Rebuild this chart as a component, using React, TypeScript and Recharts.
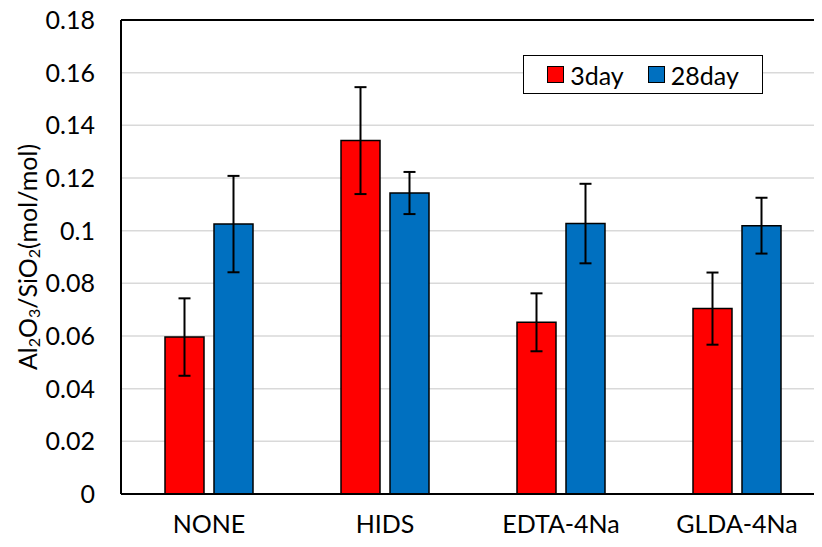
import React from 'react';
import {
  BarChart,
  Bar,
  XAxis,
  YAxis,
  CartesianGrid,
  ErrorBar,
  ReferenceLine,
  Label,
} from 'recharts';

// --- data ---
const categories = ['NONE', 'HIDS', 'EDTA-4Na', 'GLDA-4Na'];
const day3 = [0.0596, 0.1342, 0.0652, 0.0704];
const day3Err = [0.0147, 0.0203, 0.011, 0.0137];
const day28 = [0.1025, 0.1143, 0.1027, 0.1019];
const day28Err = [0.0183, 0.008, 0.0151, 0.0106];
const yTicks = [0, 0.02, 0.04, 0.06, 0.08, 0.1, 0.12, 0.14, 0.16, 0.18];

const series = [
  { key: 'day3', name: '3day', color: '#FF0000' },
  { key: 'day28', name: '28day', color: '#0070C0' },
];

const data = categories.map((c, i) => ({
  name: c,
  day3: day3[i],
  day3Err: day3Err[i],
  day28: day28[i],
  day28Err: day28Err[i],
}));

const FONT = 'Lato, "Noto Sans", sans-serif';

// rotated y label with real subscripts
const YLabel = ({ viewBox }: any) => {
  const cx = 27;
  const cy = viewBox.y + viewBox.height / 2;
  const sub = { fontSize: 16 };
  return (
    <text
      x={cx}
      y={cy}
      transform={`rotate(-90, ${cx}, ${cy})`}
      textAnchor="middle"
      dominantBaseline="central"
      fontSize={25}
      fontFamily={FONT}
      fill="#000"
    >
      Al<tspan dy={6} {...sub}>2</tspan>
      <tspan dy={-6}>O</tspan>
      <tspan dy={6} {...sub}>3</tspan>
      <tspan dy={-6}>/SiO</tspan>
      <tspan dy={6} {...sub}>2</tspan>
      <tspan dy={-6}>(mol/mol)</tspan>
    </text>
  );
};

export default function App() {
  return (
    // cancel the body margin; the plot runs off the right edge like the original
    <div style={{ position: 'relative', margin: '-8px 0 0 -8px', width: 822, height: 547, overflow: 'hidden', fontFamily: FONT }}>
      <div style={{ position: 'absolute', left: 0, top: 0 }}>
        <BarChart
          width={838}
          height={547}
          data={data}
          margin={{ top: 20, right: 13, left: 41, bottom: 0 }}
          barSize={39}
          barGap={10}
        >
          <CartesianGrid vertical={false} stroke="#d9d9d9" strokeWidth={1.5} />
          <XAxis
            dataKey="name"
            height={53}
            tickLine={false}
            tickSize={0}
            tickMargin={21}
            axisLine={{ stroke: '#000', strokeWidth: 2 }}
            tick={{ fill: '#000', fontSize: 25, fontFamily: FONT }}
            interval={0}
          />
          <YAxis
            width={80}
            domain={[0, 0.18]}
            ticks={yTicks}
            tickLine={false}
            tickSize={0}
            tickMargin={26}
            axisLine={{ stroke: '#000', strokeWidth: 2 }}
            tick={{ fill: '#000', fontSize: 25, fontFamily: FONT }}
          >
            <Label content={<YLabel />} />
          </YAxis>
          <ReferenceLine y={0.18} stroke="#000" strokeWidth={2} />
          {series.map((s) => (
            <Bar
              key={s.key}
              dataKey={s.key}
              name={s.name}
              fill={s.color}
              stroke="#000"
              strokeWidth={1.5}
              isAnimationActive={false}
            >
              <ErrorBar dataKey={s.key + 'Err'} width={6} stroke="#000" strokeWidth={2} isAnimationActive={false} />
            </Bar>
          ))}
        </BarChart>
        {/* legend box drawn over the plot, like the Excel original */}
        <div
          style={{
            position: 'absolute',
            left: 523,
            top: 55,
            width: 238,
            height: 37,
            background: '#fff',
            border: '1.5px solid #000',
            display: 'flex',
            alignItems: 'center',
            justifyContent: 'center',
            gap: 24,
            fontSize: 25,
            color: '#000',
          }}
        >
          {series.map((s) => (
            <div key={s.key} style={{ display: 'flex', alignItems: 'center', gap: 6 }}>
              <span style={{ width: 15, height: 15, background: s.color, border: '1px solid #000', display: 'inline-block' }} />
              <span>{s.name}</span>
            </div>
          ))}
        </div>
      </div>
    </div>
  );
}
